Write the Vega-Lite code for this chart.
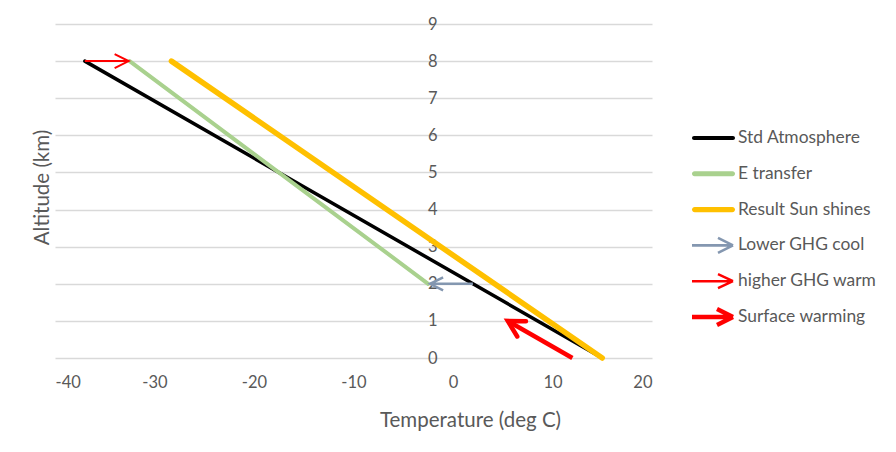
{
  "$schema": "https://vega.github.io/schema/vega-lite/v6.json",
  "width": 597,
  "height": 334,
  "autosize": {"type": "none"},
  "padding": {"left": 55, "top": 24, "right": 244, "bottom": 94},
  "background": "white",
  "config": {
    "view": {"stroke": null},
    "font": "Lato",
    "legend": {
      "labelFontSize": 17.4,
      "labelColor": "#595959",
      "labelOffset": 26,
      "rowPadding": 16.8,
      "padding": 0,
      "symbolSize": 400,
      "symbolStrokeWidth": 0,
      "symbolOpacity": 1
    }
  },
  "datasets": {
    "lines": [
      {"series": "Std Atmosphere", "temp": 15, "alt": 0},
      {"series": "Std Atmosphere", "temp": -37, "alt": 8},
      {"series": "E transfer", "temp": -2.5, "alt": 2},
      {"series": "E transfer", "temp": -32.5, "alt": 8},
      {"series": "Result Sun shines", "temp": 15, "alt": 0},
      {"series": "Result Sun shines", "temp": -28.3, "alt": 8},
      {"series": "Lower GHG cool", "temp": 2, "alt": 2},
      {"series": "Lower GHG cool", "temp": -2.3, "alt": 2},
      {"series": "higher GHG warm", "temp": -37, "alt": 8},
      {"series": "higher GHG warm", "temp": -32.6, "alt": 8},
      {"series": "Surface warming", "temp": 12, "alt": 0},
      {"series": "Surface warming", "temp": 5.5, "alt": 1}
    ],
    "heads": [
      {"series": "Lower GHG cool", "temp": -2.3, "alt": 2},
      {"series": "higher GHG warm", "temp": -32.6, "alt": 8},
      {"series": "Surface warming", "temp": 5.5, "alt": 1}
    ]
  },
  "encoding": {
    "x": {
      "field": "temp",
      "type": "quantitative",
      "scale": {"domain": [-40, 20], "nice": false, "zero": false},
      "axis": {
        "title": "Temperature (deg C)",
        "values": [-40, -30, -20, -10, 0, 10, 20],
        "labelExpr": "replace(datum.label, '−', '-')",
        "grid": false,
        "domain": false,
        "ticks": false,
        "tickSize": 0,
        "labelPadding": 16,
        "labelFontSize": 16.5,
        "labelColor": "#595959",
        "titleFontSize": 20.5,
        "titleColor": "#595959",
        "titleFontWeight": "normal",
        "titleX": 415,
        "titleY": 62,
        "titleAlign": "center",
        "titleBaseline": "middle"
      }
    },
    "y": {
      "field": "alt",
      "type": "quantitative",
      "scale": {"domain": [0, 9], "nice": false, "zero": false},
      "axis": {
        "title": "Altitude (km)",
        "values": [0, 1, 2, 3, 4, 5, 6, 7, 8, 9],
        "grid": true,
        "gridColor": "#d9d9d9",
        "gridWidth": 1.3,
        "domain": false,
        "ticks": false,
        "tickSize": 0,
        "offset": -399,
        "labelPadding": 17,
        "labelFontSize": 16.5,
        "labelColor": "#595959",
        "titleFontSize": 20.5,
        "titleColor": "#595959",
        "titleFontWeight": "normal",
        "titleX": -412,
        "titleY": 163,
        "titleAngle": -90,
        "titleAlign": "center",
        "titleBaseline": "middle"
      }
    }
  },
  "layer": [
    {
      "data": {"name": "lines"},
      "transform": [{"filter": "datum.series === 'Std Atmosphere'"}],
      "mark": {"type": "line", "color": "#000000", "strokeWidth": 3.5, "strokeCap": "round"}
    },
    {
      "data": {"name": "lines"},
      "transform": [{"filter": "datum.series === 'E transfer'"}],
      "mark": {"type": "line", "color": "#a9d18e", "strokeWidth": 4, "strokeCap": "round"}
    },
    {
      "data": {"name": "lines"},
      "transform": [{"filter": "datum.series === 'Result Sun shines'"}],
      "mark": {"type": "line", "color": "#ffc000", "strokeWidth": 5.5, "strokeCap": "round"}
    },
    {
      "data": {"name": "lines"},
      "transform": [{"filter": "datum.series === 'Lower GHG cool'"}],
      "mark": {"type": "line", "color": "#8497b0", "strokeWidth": 2.5}
    },
    {
      "data": {"name": "lines"},
      "transform": [{"filter": "datum.series === 'higher GHG warm'"}],
      "mark": {"type": "line", "color": "#ff0000", "strokeWidth": 2}
    },
    {
      "data": {"name": "lines"},
      "transform": [{"filter": "datum.series === 'Surface warming'"}],
      "mark": {"type": "line", "color": "#ff0000", "strokeWidth": 4.5}
    },
    {
      "data": {"name": "heads"},
      "transform": [{"filter": "datum.series === 'Lower GHG cool'"}],
      "mark": {"type": "point", "shape": "M-2,-1L0,0L-2,1", "filled": false, "stroke": "#8497b0", "strokeWidth": 2.5, "size": 169, "angle": 180, "opacity": 1, "strokeJoin": "miter"}
    },
    {
      "data": {"name": "heads"},
      "transform": [{"filter": "datum.series === 'higher GHG warm'"}],
      "mark": {"type": "point", "shape": "M-2,-1L0,0L-2,1", "filled": false, "stroke": "#ff0000", "strokeWidth": 2, "size": 196, "angle": 0, "opacity": 1, "strokeJoin": "miter"}
    },
    {
      "data": {"name": "heads"},
      "transform": [{"filter": "datum.series === 'Surface warming'"}],
      "mark": {"type": "point", "shape": "M-2,-1.1L0,0L-2,1.1", "filled": false, "stroke": "#ff0000", "strokeWidth": 4.5, "size": 256, "angle": 209.8, "opacity": 1, "strokeJoin": "miter", "strokeCap": "round"}
    },
    {
      "data": {"name": "lines"},
      "transform": [{"filter": "false"}],
      "mark": {"type": "point", "filled": true, "opacity": 1, "strokeWidth": 0, "size": 400},
      "encoding": {
        "color": {
          "field": "series",
          "type": "nominal",
          "scale": {
            "domain": ["Std Atmosphere", "E transfer", "Result Sun shines", "Lower GHG cool", "higher GHG warm", "Surface warming"],
            "range": ["#000000", "#a9d18e", "#ffc000", "#8497b0", "#ff0000", "#ff0000"]
          },
          "legend": {"title": null, "orient": "none", "legendX": 637, "legendY": 104}
        },
        "shape": {
          "field": "series",
          "type": "nominal",
          "scale": {
            "domain": ["Std Atmosphere", "E transfer", "Result Sun shines", "Lower GHG cool", "higher GHG warm", "Surface warming"],
            "range": [
              "M-0.8,-0.2L3.1,-0.2A0.2,0.2,0,0,1,3.1,0.2L-0.8,0.2A0.2,0.2,0,0,1,-0.8,-0.2Z",
              "M-0.75,-0.25L3.05,-0.25A0.25,0.25,0,0,1,3.05,0.25L-0.75,0.25A0.25,0.25,0,0,1,-0.75,-0.25Z",
              "M-0.73,-0.27L3.03,-0.27A0.27,0.27,0,0,1,3.03,0.27L-0.73,0.27A0.27,0.27,0,0,1,-0.73,-0.27Z",
              "M-1,-0.13L3,-0.13L3,0.13L-1,0.13Z M3.042,0.116L1.542,-0.634L1.658,-0.866L3.158,-0.116Z M3.158,0.116L1.658,0.866L1.542,0.634L3.042,-0.116Z",
              "M-1,-0.12L3,-0.12L3,0.12L-1,0.12Z M3.049,0.109L1.549,-0.591L1.651,-0.809L3.151,-0.109Z M3.151,0.109L1.651,0.809L1.549,0.591L3.049,-0.109Z",
              "M-1,-0.22L2.9,-0.22L2.9,0.22L-1,0.22Z M3.002,0.197L1.402,-0.603L1.598,-0.997L3.198,-0.197Z M3.198,0.197L1.598,0.997L1.402,0.603L3.002,-0.197Z"
            ]
          },
          "legend": {"title": null, "orient": "none", "legendX": 637, "legendY": 104}
        }
      }
    }
  ]
}
